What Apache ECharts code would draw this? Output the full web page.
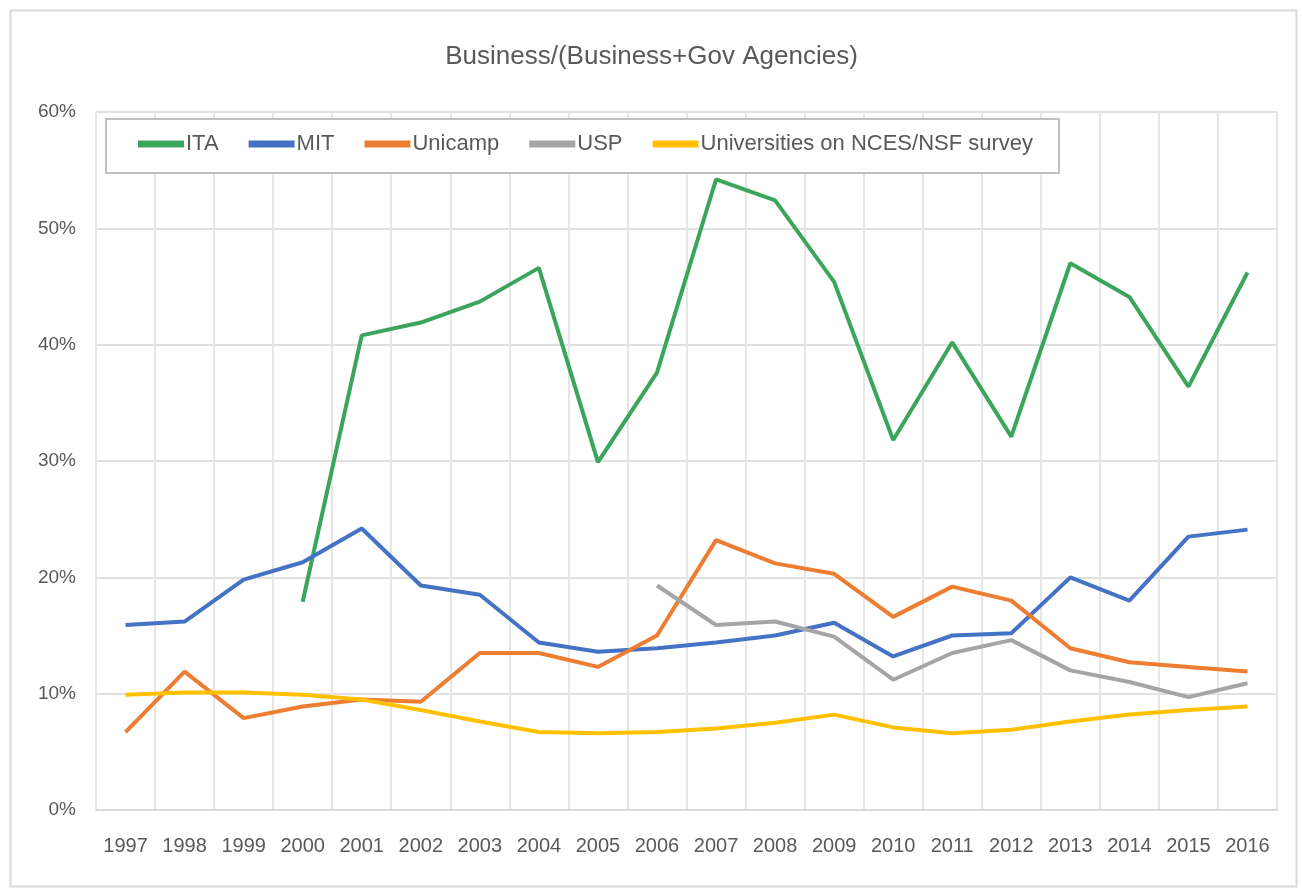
<!DOCTYPE html>
<html><head><meta charset="utf-8">
<script src="https://cdn.jsdelivr.net/npm/echarts@6/dist/echarts.min.js"></script>
<style>html,body{margin:0;padding:0;background:#fff}#c{width:1303px;height:890px}</style>
</head><body><div id="c"></div>
<script>
const years = ['1997','1998','1999','2000','2001','2002','2003','2004','2005','2006','2007','2008','2009','2010','2011','2012','2013','2014','2015','2016'];
const yTicks = ['0%','10%','20%','30%','40%','50%','60%'];
const ITA = [null,null,null,17.9,40.8,41.9,43.7,46.6,29.9,37.6,54.2,52.4,45.4,31.8,40.2,32.1,47.0,44.1,36.4,46.2];
const MIT = [15.9,16.2,19.8,21.3,24.2,19.3,18.5,14.4,13.6,13.9,14.4,15.0,16.1,13.2,15.0,15.2,20.0,18.0,23.5,24.1];
const Unicamp = [6.7,11.9,7.9,8.9,9.5,9.3,13.5,13.5,12.3,15.0,23.2,21.2,20.3,16.6,19.2,18.0,13.9,12.7,12.3,11.9];
const USP = [null,null,null,null,null,null,null,null,null,19.3,15.9,16.2,14.9,11.2,13.5,14.6,12.0,11.0,9.7,10.9];
const Universities = [9.9,10.1,10.1,9.9,9.5,8.6,7.6,6.7,6.6,6.7,7.0,7.5,8.2,7.1,6.6,6.9,7.6,8.2,8.6,8.9];
const seriesNames = ['ITA','MIT','Unicamp','USP','Universities on NCES/NSF survey'];
const colors = ['#3BA55C','#4472C4','#ED7D31','#A5A5A5','#FFC000'];

const chart = echarts.init(document.getElementById('c'));
const font = 'Liberation Sans, Arial, sans-serif';
const data = [ITA, MIT, Unicamp, USP, Universities];
chart.setOption({
  animation: false,
  color: colors,
  title: {
    text: 'Business/(Business+Gov Agencies)',
    left: 'center', top: 39,
    textStyle: {color: '#595959', fontSize: 26, fontWeight: 'normal', fontFamily: font}
  },
  legend: {
    data: seriesNames,
    left: 138, top: 133, padding: 0, z: 20,
    itemGap: 30,
    itemWidth: 46, itemHeight: 7,
    textStyle: {color: '#595959', fontSize: 22, fontFamily: font, padding: [0, 0, 0, -3]},
    icon: 'rect'
  },
  grid: {left: 96, right: 26, top: 112, bottom: 80},
  xAxis: {
    type: 'category', data: years, boundaryGap: true,
    axisLine: {lineStyle: {color: '#d9d9d9', width: 2}},
    axisTick: {show: false},
    axisLabel: {color: '#595959', fontSize: 20, fontFamily: font, margin: 26, interval: 0},
    splitLine: {show: true, interval: 0, lineStyle: {color: '#e6e6e6', width: 2}}
  },
  yAxis: {
    type: 'value', min: 0, max: 60, interval: 10,
    axisLine: {show: false}, axisTick: {show: false},
    axisLabel: {color: '#595959', fontSize: 19, fontFamily: font, margin: 20,
      formatter: v => yTicks[Math.round(v/10)]},
    splitLine: {lineStyle: {color: '#e0e0e0', width: 2}}
  },
  graphic: [{
    type: 'rect', left: 8, top: 8, z: -1,
    shape: {width: 1286, height: 876},
    style: {fill: 'none', stroke: '#d9d9d9', lineWidth: 2}
  }, {
    type: 'rect', left: 105, top: 118, z: 8,
    shape: {width: 953, height: 54},
    style: {fill: '#fff', stroke: '#bfbfbf', lineWidth: 2}
  }],
  series: seriesNames.map((n, i) => ({
    name: n, type: 'line', data: data[i],
    showSymbol: false, symbol: 'none',
    lineStyle: {width: 4, color: colors[i]},
    z: 3
  }))
});
</script></body></html>
